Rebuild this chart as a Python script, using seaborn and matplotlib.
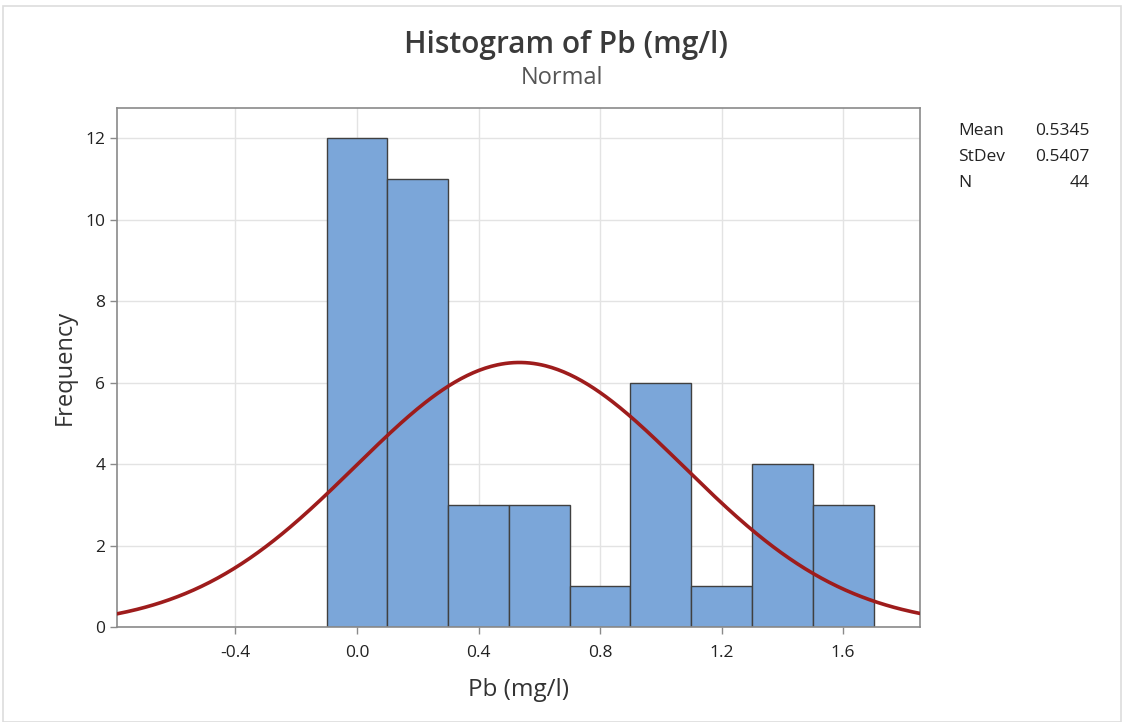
import matplotlib
matplotlib.use('Agg')
import matplotlib.pyplot as plt
import seaborn as sns
import numpy as np
import pandas as pd

# Dane
bin_centers = [0.0, 0.2, 0.4, 0.6, 0.8, 1.0, 1.2, 1.4, 1.6]
counts = [12, 11, 3, 3, 1, 6, 1, 4, 3]
mean = 0.5345
stdev = 0.5407
n = 44
bin_width = 0.2
x_ticks = [-0.4, 0.0, 0.4, 0.8, 1.2, 1.6]
y_ticks = [0, 2, 4, 6, 8, 10, 12]

df = pd.DataFrame({'Pb': bin_centers, 'count': counts})

sns.set_style('white')
plt.rcParams['font.family'] = ['Open Sans', 'DejaVu Sans']

fig = plt.figure(figsize=(11.24, 7.22), dpi=100)
ax = fig.add_axes([0.1041, 0.1316, 0.7144, 0.7188])

sns.histplot(data=df, x='Pb', weights='count', binwidth=bin_width,
             binrange=(bin_centers[0] - bin_width / 2, bin_centers[-1] + bin_width / 2), ax=ax,
             color='#7BA6D9', edgecolor='#404040', linewidth=1.0, alpha=1.0, zorder=2)

# Krzywa rozkładu normalnego
xs = np.linspace(-0.79, 1.853, 400)
ys = n * bin_width * np.exp(-0.5 * ((xs - mean) / stdev) ** 2) / (stdev * np.sqrt(2 * np.pi))
sns.lineplot(x=xs, y=ys, ax=ax, color='#9E1C1C', linewidth=2.6, zorder=3)

ax.set_xlim(-0.79, 1.853)
ax.set_ylim(0, 12.74)
ax.set_xticks(x_ticks)
ax.set_xticklabels([f'{t:.1f}' for t in x_ticks])
ax.set_yticks(y_ticks)
ax.grid(True, color='#e3e3e3', linewidth=1.0, zorder=0)
ax.set_axisbelow(True)
for s in ax.spines.values():
    s.set_color('#8a8a8a')
    s.set_linewidth(1.2)
ax.tick_params(axis='both', which='both', direction='out', length=5, width=1.0,
               color='#8a8a8a', labelsize=12.5, labelcolor='#222222', left=True, bottom=True)
ax.tick_params(axis='x', pad=8)
ax.set_xlabel('Pb (mg/l)', fontsize=17.5, color='#333333', labelpad=12)
ax.set_ylabel('Frequency', fontsize=17, color='#333333', labelpad=6)

fig.text(0.504, 0.937, 'Histogram of Pb (mg/l)', ha='center', va='center',
         fontsize=21.5, fontweight='semibold', color='#3a3a3a')
fig.text(0.500, 0.892, 'Normal', ha='center', va='center', fontsize=17, color='#555555')

# Tabela statystyk
stats = [('Mean', f'{mean:.4f}'), ('StDev', f'{stdev:.4f}'), ('N', f'{n}')]
for i, (lab, val) in enumerate(stats):
    y = 1 - (131 + i * 26) / 722
    fig.text(958 / 1124, y, lab, ha='left', va='center', fontsize=12.5, color='#222222')
    fig.text(1090 / 1124, y, val, ha='right', va='center', fontsize=12.5, color='#222222')

# Ramka wokół obrazu
fig.patches.append(plt.Rectangle((0.003, 0.0), 0.994, 0.992, transform=fig.transFigure,
                                 fill=False, edgecolor='#dddddd', linewidth=1.2))

fig.savefig('out.png', dpi=100)
